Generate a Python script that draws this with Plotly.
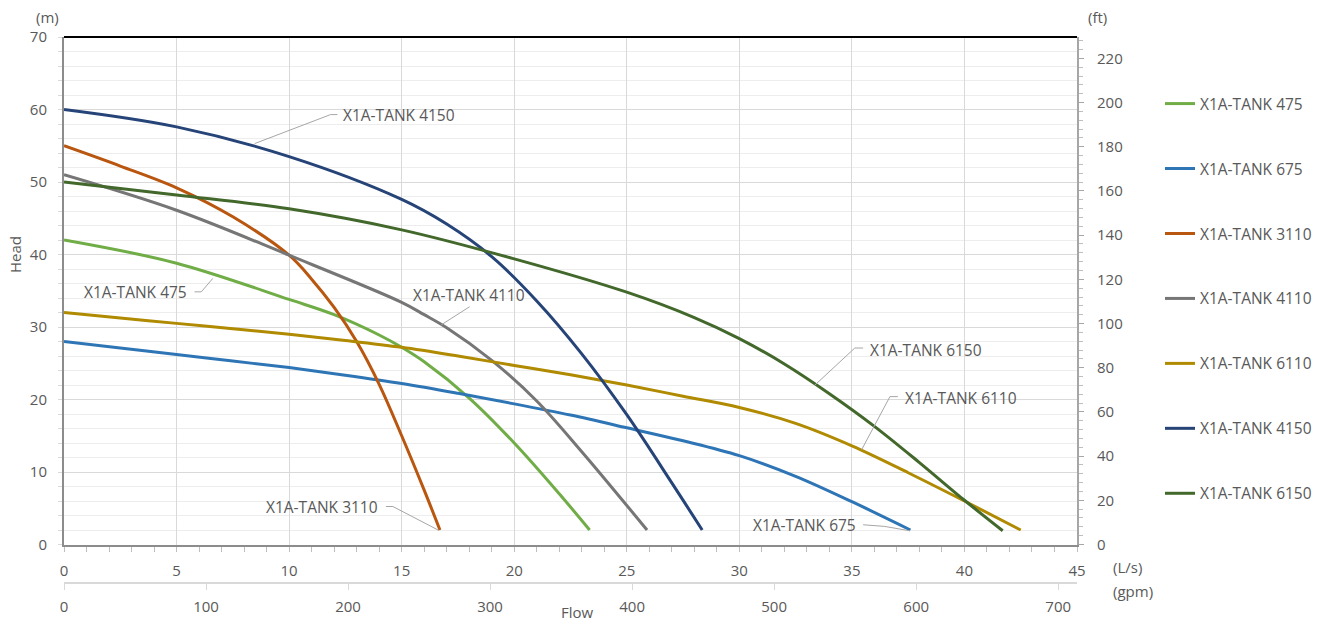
import plotly.graph_objects as go

# ---------------- data ----------------
LPS_TO_GPM = 15.85
M_TO_FT = 3.28084
X_MAX = 45
Y_MAX = 70

series_names = ["X1A-TANK 475", "X1A-TANK 675", "X1A-TANK 3110", "X1A-TANK 4110",
                "X1A-TANK 6110", "X1A-TANK 4150", "X1A-TANK 6150"]
series_colors = ["#70AD47", "#2E75B6", "#B9560F", "#767676", "#B08A00", "#264478", "#43682B"]

flow_475 = [0, 5, 10, 12, 14, 15, 16, 18, 20, 22, 23.35]
head_475 = [42, 38.8, 33.8, 31.7, 28.9, 27.2, 25.2, 20.2, 14.0, 7.0, 2]

flow_675 = [0, 2.5, 5, 7.5, 10, 12.5, 15, 17.5, 20, 22.5, 25, 27.5, 30, 32.5, 35, 37.6]
head_675 = [28, 27.1, 26.2, 25.3, 24.4, 23.35, 22.2, 20.85, 19.4, 17.85, 16.1, 14.3,
            12.25, 9.4, 5.9, 2.0]

flow_3110 = [0, 2.5, 5, 7.5, 10, 11, 12, 13, 14, 15, 16, 16.7]
head_3110 = [55, 52.2, 49.2, 45.2, 39.9, 36.6, 32.7, 28.0, 22.1, 15.0, 7.5, 2]

flow_4110 = [0, 5, 10, 15, 16, 17, 19, 21, 23, 25.9]
head_4110 = [51, 46.1, 39.9, 33.4, 31.7, 29.9, 25.4, 19.8, 12.8, 2]

flow_6110 = [0, 2.5, 5, 7.5, 10, 12.5, 15, 17.5, 20, 22.5, 25, 27.5, 30, 32.5, 35, 37.5,
             40, 42.5]
head_6110 = [32, 31.25, 30.5, 29.75, 29.0, 28.15, 27.2, 26.0, 24.7, 23.4, 22.0, 20.45,
             18.9, 16.7, 13.6, 9.9, 6.0, 2.0]

flow_4150 = [0, 5, 10, 15, 17, 19, 21, 23, 25, 27, 28.35]
head_4150 = [60, 57.6, 53.5, 47.6, 44.2, 39.7, 33.6, 26.3, 17.9, 8.5, 2]

flow_6150 = [0, 5, 10, 15, 20, 25, 28, 30, 32, 34, 36, 38, 40, 41.7]
head_6150 = [50, 48.2, 46.3, 43.4, 39.4, 34.8, 31.3, 28.4, 24.9, 20.8, 16.3, 11.3, 6.1, 1.9]

flows = [flow_475, flow_675, flow_3110, flow_4110, flow_6110, flow_4150, flow_6150]
heads = [head_475, head_675, head_3110, head_4110, head_6110, head_4150, head_6150]

# callout labels (text, x, y, xanchor) and leader polylines (data coords)
label_text = ["X1A-TANK 4150", "X1A-TANK 475", "X1A-TANK 4110", "X1A-TANK 3110",
              "X1A-TANK 675", "X1A-TANK 6150", "X1A-TANK 6110"]
label_x = [12.3, 5.55, 17.98, 14.05, 35.25, 35.7, 37.25]
label_y = [59.3, 34.8, 34.4, 5.24, 2.72, 26.84, 20.2]
label_anchor = ["left", "right", "center", "right", "right", "left", "left"]
leader_x = [[8.47, 11.84, 12.15], [6.61, 6.1, 5.8], [16.76, 18.02], [16.66, 14.61, 14.3],
            [37.58, 36.45, 35.5], [33.36, 35.13, 35.5], [35.43, 36.69, 37.04]]
leader_y = [[55.3, 59.3, 59.3], [36.7, 34.85, 34.85], [30.3, 32.8], [1.93, 5.24, 5.24],
            [1.89, 2.5, 2.72], [22.0, 27.1, 27.1], [13.06, 20.4, 20.4]]

left_ticks = list(range(0, 71, 10))
right_ticks = list(range(0, 221, 20))
bottom_ticks = list(range(0, 46, 5))
gpm_ticks = list(range(0, 701, 100))

# ---------------- figure ----------------
TXT = "#595959"
FONT = "Open Sans"
FS = 15.5
fig = go.Figure()

for name, color, fx, hy in zip(series_names, series_colors, flows, heads):
    fig.add_trace(go.Scatter(
        x=fx, y=hy, mode="lines", name=name, legendgroup=name,
        line=dict(color=color, width=3, shape="spline", smoothing=1.0),
        hoverinfo="x+y+name"))

# invisible trace to activate secondary axes (gpm / ft)
fig.add_trace(go.Scatter(x=[0, X_MAX * LPS_TO_GPM], y=[0, Y_MAX * M_TO_FT],
                         xaxis="x2", yaxis="y2", mode="markers",
                         marker=dict(opacity=0), showlegend=False, hoverinfo="skip"))

# leader lines
for lx, ly in zip(leader_x, leader_y):
    fig.add_trace(go.Scatter(x=lx, y=ly, mode="lines", line=dict(color="#A6A6A6", width=1),
                             showlegend=False, hoverinfo="skip"))

for t, x, y, a in zip(label_text, label_x, label_y, label_anchor):
    fig.add_annotation(x=x, y=y, text=t, showarrow=False, xanchor=a, yanchor="middle",
                       font=dict(family=FONT, size=FS, color=TXT))

W, H = 1325, 622
ML, MR, MT, MB = 64, 248, 37, 39
pw, ph = W - ML - MR, H - MT - MB

# axis unit labels / titles (pixel positions converted to paper coords)
extra = [("(m)", 47, 17, "center", 0), ("(ft)", 1097, 17, "center", 0),
         ("(L/s)", 1111, 567, "left", 0), ("(gpm)", 1111, 591, "left", 0),
         ("Flow", 577, 612, "center", 0), ("Head", 15, 255, "center", -90)]
for t, px, py, a, ang in extra:
    fig.add_annotation(x=(px - ML) / pw, y=1 - (py - MT) / ph, xref="paper", yref="paper",
                       text=t, showarrow=False, xanchor=a, yanchor="middle", textangle=ang,
                       font=dict(family=FONT, size=15, color=TXT))

# top black border
fig.add_shape(type="line", xref="paper", yref="paper", x0=0, x1=1, y0=1, y1=1,
              line=dict(color="black", width=2))

ydom0 = 1 - (544.5 - MT) / ph

fig.update_layout(
    width=W, height=H,
    margin=dict(l=ML, r=MR, t=MT, b=MB, autoexpand=False),
    paper_bgcolor="white", plot_bgcolor="white",
    font=dict(family=FONT, size=15, color=TXT),
    showlegend=True,
    legend=dict(xref="container", yref="container", x=1160 / W, y=1 - 87 / H,
                xanchor="left", yanchor="top", tracegroupgap=41.8, maxheight=580,
                font=dict(family=FONT, size=FS, color=TXT), bgcolor="rgba(0,0,0,0)"),
    xaxis=dict(range=[0, X_MAX], tickvals=bottom_ticks, showgrid=True, gridcolor="#D9D9D9",
               gridwidth=1, showline=True, linecolor="#8C8C8C", linewidth=2,
               ticks="outside", ticklen=5, tickcolor="#BFBFBF", ticklabelstandoff=6,
               minor=dict(dtick=1, ticks="outside", ticklen=5, tickcolor="#BFBFBF", showgrid=False),
               zeroline=False, anchor="y", domain=[0, 1], automargin=False),
    xaxis2=dict(range=[0, X_MAX * LPS_TO_GPM], tickvals=gpm_ticks, overlaying="x",
                anchor="free", position=0, side="bottom", showgrid=False,
                showline=True, linecolor="#D9D9D9", linewidth=2, ticks="outside",
                ticklen=6, tickcolor="#D9D9D9", zeroline=False, ticklabelstandoff=4,
                automargin=False),
    yaxis=dict(range=[0, Y_MAX], tickvals=left_ticks, domain=[ydom0, 1], showgrid=True,
               gridcolor="#D9D9D9", gridwidth=1, showline=True, linecolor="#8C8C8C",
               linewidth=2, ticks="outside", ticklen=4, tickcolor="#D9D9D9",
               ticklabelstandoff=8,
               minor=dict(dtick=2, showgrid=True, gridcolor="#EDEDED", ticks="outside",
                          ticklen=4, tickcolor="#D9D9D9"),
               zeroline=False, automargin=False),
    yaxis2=dict(range=[0, Y_MAX * M_TO_FT], tickvals=right_ticks, overlaying="y", side="right",
                anchor="x", showgrid=False, showline=True, linecolor="#A6A6A6", linewidth=2,
                ticks="outside", ticklen=5, tickcolor="#A6A6A6", ticklabelstandoff=10,
                minor=dict(dtick=4, ticks="outside", ticklen=4, tickcolor="#BFBFBF"),
                zeroline=False, automargin=False),
)

fig.write_html("out.html", config={"displayModeBar": False},
               post_script="document.body.style.margin='0';document.body.style.overflow='hidden';")
